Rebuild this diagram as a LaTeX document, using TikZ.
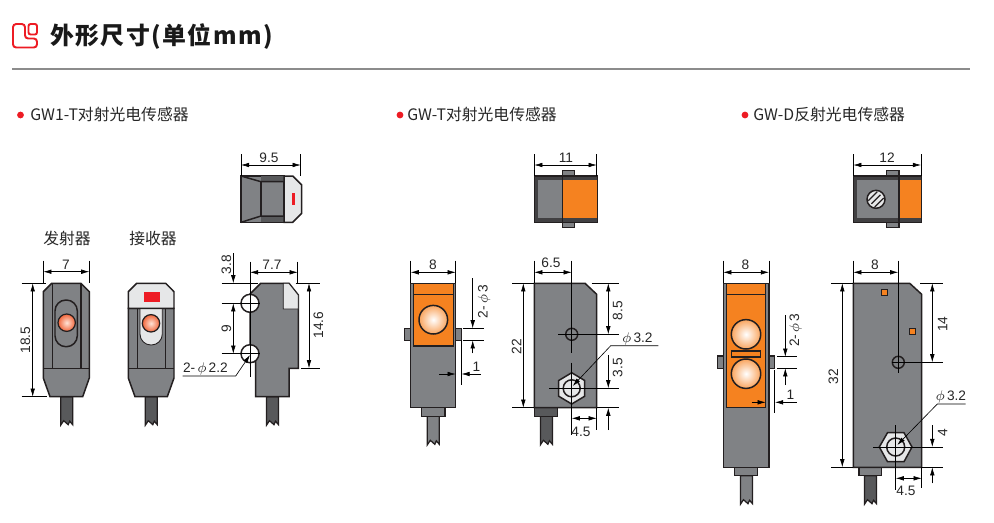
\documentclass[tikz,border=0pt]{standalone}
\usepackage{fontspec}
\usepackage{xcolor}
\usepackage{tikz}
\usetikzlibrary{arrows.meta}
\setmainfont{Liberation Sans}
\newfontfamily\cjk{Noto Sans CJK SC}
\newfontfamily\cjktitle[LetterSpace=6]{Noto Sans CJK SC}
\definecolor{bodygrey}{HTML}{808285}
\definecolor{capgrey}{HTML}{E6E7E8}
\definecolor{lineblack}{HTML}{231F20}
\definecolor{darkgrey}{HTML}{58595B}
\definecolor{bandgrey}{HTML}{414042}
\definecolor{lensorange}{HTML}{F58220}
\definecolor{lensedge}{HTML}{F9A55F}
\definecolor{ledcentre}{HTML}{FFE3D6}
\definecolor{ledgedge}{HTML}{F0653A}
\definecolor{markred}{HTML}{ED1C24}
\tikzset{
    part/.style={draw=lineblack,line width=0.85pt,fill=bodygrey},
    inner/.style={draw=lineblack,line width=0.85pt},
    led/.style={draw=lineblack,line width=0.7pt,inner color=ledcentre,outer color=ledgedge},
    lens/.style={draw=lineblack,line width=0.85pt,inner color=white,outer color=lensedge},
    dimline/.style={draw=black,line width=0.35pt},
    dimarrow/.style={draw=black,line width=0.35pt,-{Latex[length=4.6pt,width=2.6pt]}},
    dimboth/.style={draw=black,line width=0.35pt,{Latex[length=4.6pt,width=2.6pt]}-{Latex[length=4.6pt,width=2.6pt]}},
    dimtext/.style={font=\fontsize{7.8}{9}\selectfont,inner sep=0pt,text=black!85},
    sectiontext/.style={font=\cjk\fontsize{9}{10}\selectfont,inner sep=0pt,anchor=west,text=black!85},
    pics/cable/.style={code={
        \draw[part,line width=0.7pt,fill=#1] (-6,0) -- (-6,28.5) -- (-3,24) -- (1.5,28) -- (3,24.5) -- (6,28) -- (6,0) -- cycle;
    }},
}
\begin{document}
\begin{tikzpicture}[x=0.02cm,y=-0.02cm]
    \useasboundingbox (0,0) rectangle (994,522);

    % draw header
    \draw[markred,line width=1.1pt,rounded corners=1.8pt] (13,24) -- (25,24) -- (25,38.5) -- (37,38.5) -- (37,47.5) -- (13,47.5) -- cycle;
    \draw[markred,line width=1.1pt,rounded corners=1.2pt] (28.5,24) rectangle (37,34.5);
    \node[inner sep=0pt,anchor=west,font=\cjktitle\bfseries\fontsize{13.6}{15}\selectfont,text=black!90] (title) at (50,36) {外形尺寸(单位mm)};
    \draw[black!45,line width=0.6pt] (12,69) -- (970,69);

    % draw section labels
    \foreach \x in {20.5,400,745}
        \fill[markred] (\x,115) circle [radius=3.4];
    \node[sectiontext] (gwonelabel) at (30,114) {GW1-T对射光电传感器};
    \node[sectiontext] (gwtlabel) at (407,114) {GW-T对射光电传感器};
    \node[sectiontext] (gwdlabel) at (753,114) {GW-D反射光电传感器};

    % GW1-T emitter
    \pic at (66.7,396.7) {cable=darkgrey};
    \draw[part] (51.7,283.3) -- (81,283.3) -- (89.3,291.7) -- (89.3,378) -- (82.7,396.7) -- (50,396.7) -- (43.3,378) -- (43.3,291.7) -- cycle;
    \draw[inner] (43.3,368.3) -- (89.3,368.3);
    \draw[inner] (52.3,283.3) -- (52.3,368.3);
    \draw[inner] (81,283.3) -- (81,368.3);
    \draw[inner,rounded corners=6.2pt] (55,300) rectangle (77.3,346.7);
    \draw[led] (66.7,322.7) circle [radius=8.7];
    \node[inner sep=0pt,font=\cjk\fontsize{9}{10}\selectfont,text=black!85] (emitterlabel) at (67,238) {发射器};

    % GW1-T receiver
    \pic at (151.3,396.7) {cable=darkgrey};
    \draw[part] (128.3,308.3) -- (174,308.3) -- (174,378) -- (167.3,396.7) -- (135,396.7) -- (128.3,378) -- cycle;
    \draw[inner] (128.3,368.3) -- (174,368.3);
    \draw[inner] (137.3,308.3) -- (137.3,368.3);
    \draw[inner] (165.7,308.3) -- (165.7,368.3);
    \draw[lineblack,line width=0.5pt,fill=capgrey,rounded corners=6.2pt] (140,308.3) -- (140,345) -- (162.3,345) -- (162.3,308.3);
    \draw[part,fill=capgrey] (136.7,283.3) -- (165.7,283.3) -- (174,291.7) -- (174,308.3) -- (128.3,308.3) -- (128.3,291.7) -- cycle;
    \fill[markred] (144,291.7) rectangle (160,301.7);
    \draw[led] (151,323.3) circle [radius=8.7];
    \node[inner sep=0pt,font=\cjk\fontsize{9}{10}\selectfont,text=black!85] (receiverlabel) at (153,238) {接收器};

    % GW1-T top view
    \draw[part] (241,176) -- (284,176) -- (284,222.3) -- (241,222.3) -- cycle;
    \fill[darkgrey] (261,176) rectangle (284,181.7);
    \fill[darkgrey] (261,216) rectangle (284,222.3);
    \draw[inner] (241,176) -- (261,181.7) -- (284,181.7);
    \draw[inner] (241,222.3) -- (261,216) -- (284,216);
    \draw[inner] (261,181.7) -- (261,216);
    \draw[part,fill=capgrey] (284,176) -- (292.7,176) -- (301.7,185) -- (301.7,213.3) -- (292.7,222.3) -- (284,222.3) -- cycle;
    \fill[markred] (292,192.7) rectangle (295,205);

    % GW1-T side view
    \pic at (272.5,396.7) {cable=darkgrey};
    \draw[part] (260.7,283.3) -- (289,283.3) -- (298.3,295) -- (298.3,368.3) -- (289,368.3) -- (289,396.7) -- (255.7,396.7) -- (255.7,361.7) -- (250,361.7) -- (250,294) -- cycle;
    \draw[part,fill=capgrey,line width=0.5pt] (283.3,283.3) -- (289,283.3) -- (298.3,295) -- (298.3,309) -- (283.3,309) -- cycle;
    \draw[inner,fill=white] (250,303.3) circle [radius=9];
    \draw[inner,fill=white] (250,353.7) circle [radius=9];

    % GW1-T dimensions
    \draw[dimline] (43.3,260.7) -- (43.3,283);
    \draw[dimline] (89.3,260.7) -- (89.3,283);
    \draw[dimboth] (43.3,271.7) -- (89.3,271.7);
    \node[dimtext] (dimseven) at (66,265) {7};
    \draw[dimline] (21.7,283.3) -- (46,283.3);
    \draw[dimline] (21.7,396.7) -- (47,396.7);
    \draw[dimboth] (32.7,283.3) -- (32.7,396.7);
    \node[dimtext,rotate=90] (dimeighteen) at (25.5,340) {18.5};
    \draw[dimline] (241,154) -- (241,176);
    \draw[dimline] (300.7,154) -- (300.7,176);
    \draw[dimboth] (241,165) -- (300.7,165);
    \node[dimtext] (dimninefive) at (269,158) {9.5};
    \draw[dimline] (250,261.7) -- (250,376.7);
    \draw[dimline] (297.7,261.7) -- (297.7,283);
    \draw[dimboth] (250,272.3) -- (297.7,272.3);
    \node[dimtext] (dimsevenseven) at (272,265) {7.7};
    \draw[dimline] (221.7,283.3) -- (258,283.3);
    \draw[dimline] (221.7,303.3) -- (260,303.3);
    \draw[dimline] (221.7,353.7) -- (260,353.7);
    \draw[dimarrow] (233.3,253) -- (233.3,283.3);
    \draw[dimboth] (233.3,303.3) -- (233.3,353.7);
    \node[dimtext,rotate=90] (dimthreeeight) at (226.5,264.5) {3.8};
    \node[dimtext,rotate=90] (dimnine) at (226.5,329) {9};
    \draw[dimline] (295.7,283.3) -- (320,283.3);
    \draw[dimline] (301,368.3) -- (320,368.3);
    \draw[dimboth] (309,283.3) -- (309,368.3);
    \node[dimtext,rotate=90] (dimfourteensix) at (318.5,325) {14.6};
    \draw[dimarrow] (182.7,376) -- (235.7,376) -- (250,355);
    \node[dimtext,anchor=west] (holeleft) at (182.7,369) {2-\,$\phi$\,2.2};

    % GW-T top view
    \draw[part,fill=bandgrey] (534.3,176) rectangle (597.3,222.3);
    \fill[bodygrey] (537.7,180) rectangle (562.7,218.3);
    \fill[lensorange] (562.7,180) rectangle (596.7,218.3);
    \draw[inner] (562.7,176) -- (562.7,222.3);
    \draw[part] (562.7,170.7) rectangle (574.3,176);
    \draw[part] (562.7,222.3) rectangle (574.3,227.7);

    % GW-T front view
    \pic at (433.3,416.3) {cable=bodygrey};
    \draw[part] (421.7,407.7) rectangle (445,416.3);
    \draw[part] (404.3,328.3) rectangle (410.7,340.3);
    \draw[part] (455.7,328.3) rectangle (461.7,340.3);
    \draw[part] (410.7,283.3) rectangle (455.7,407.7);
    \draw[inner,fill=lensorange] (413.3,283.6) rectangle (453.3,346);
    \draw[inner] (413.3,294.3) -- (453.3,294.3);
    \draw[lens] (433.3,319.7) circle [radius=14.3];

    % GW-T side view
    \pic at (546.4,416.3) {cable=darkgrey};
    \draw[part,fill=darkgrey] (534.3,407.7) rectangle (557.7,416.3);
    \draw[part] (534.3,283.3) -- (585,283.3) -- (596.7,294.3) -- (596.7,407.7) -- (534.3,407.7) -- cycle;
    \draw[inner] (571.7,334.3) circle [radius=6];
    \draw[part,fill=capgrey] (571.7,372.7) -- (584.7,380.5) -- (584.7,396.2) -- (571.7,404) -- (558.7,396.2) -- (558.7,380.5) -- cycle;
    \draw[inner] (571.7,388.3) circle [radius=8.5];

    % GW-T dimensions
    \draw[dimline] (534.3,154) -- (534.3,176);
    \draw[dimline] (596.7,154) -- (596.7,176);
    \draw[dimboth] (534.3,165) -- (596.7,165);
    \node[dimtext] (dimeleven) at (566,158) {11};
    \draw[dimline] (410.7,260.7) -- (410.7,283);
    \draw[dimline] (455.7,260.7) -- (455.7,283);
    \draw[dimboth] (410.7,272.3) -- (455.7,272.3);
    \node[dimtext] (dimeightt) at (433,265) {8};
    \draw[dimline] (463.3,328.3) -- (484,328.3);
    \draw[dimline] (463.3,340.3) -- (484,340.3);
    \draw[dimarrow] (472.7,278.3) -- (472.7,328.3);
    \draw[dimarrow] (472.7,353.3) -- (472.7,340.3);
    \node[dimtext,rotate=90] (lenst) at (484,301.7) {2-\,$\phi$\,3};
    \draw[dimline] (461.3,340) -- (461.3,385);
    \draw[dimarrow] (439,374) -- (455.7,374);
    \draw[dimarrow] (480.7,374) -- (461.5,374);
    \node[dimtext] (dimonet) at (476.5,366.5) {1};
    \draw[dimline] (534.3,260.7) -- (534.3,283);
    \draw[dimline] (571.7,260.7) -- (571.7,353.3);
    \draw[dimboth] (534.3,272.3) -- (571.7,272.3);
    \node[dimtext] (dimsixfive) at (551,262.7) {6.5};
    \draw[dimline] (558.3,334.3) -- (619.3,334.3);
    \draw[dimline] (571.7,362.7) -- (571.7,435);
    \draw[dimline] (549.3,388.3) -- (619.3,388.3);
    \draw[dimline] (512.3,283.3) -- (534,283.3);
    \draw[dimline] (512.3,407.7) -- (534,407.7);
    \draw[dimboth] (523.3,283.3) -- (523.3,407.7);
    \node[dimtext,rotate=90] (dimtwentytwo) at (516.7,346.7) {22};
    \draw[dimline] (591.7,283.3) -- (619.3,283.3);
    \draw[dimboth] (608.3,283.3) -- (608.3,334.3);
    \node[dimtext,rotate=90] (dimeightfive) at (617.7,310.7) {8.5};
    \draw[dimarrow] (608.3,355) -- (608.3,388.3);
    \draw[dimarrow] (608.3,430) -- (608.3,407.7);
    \draw[dimline] (596.7,407.7) -- (619.3,407.7);
    \node[dimtext,rotate=90] (dimthreefive) at (617.7,367.7) {3.5};
    \draw[dimline] (596.7,407.7) -- (596.7,430);
    \draw[dimboth] (571.7,418.3) -- (596.7,418.3);
    \node[dimtext] (dimfourfivet) at (581,431.7) {4.5};
    \draw[dimarrow] (658.3,345.7) -- (610.7,345.7) -- (572.7,386);
    \node[dimtext,anchor=west] (holet) at (622,339) {$\phi$\,3.2};

    % GW-D top view
    \draw[part,fill=bandgrey] (853.3,176) rectangle (921.7,222.3);
    \fill[bodygrey] (856.7,180) rectangle (899,218.3);
    \fill[lensorange] (899,180) rectangle (921,218.3);
    \draw[inner] (899,176) -- (899,222.3);
    \draw[part] (886.7,170.7) rectangle (899,176);
    \draw[part] (886.7,222.3) rectangle (899,227.7);
    \draw[inner,fill=capgrey] (876,199.3) circle [radius=9];
    \foreach \d in {-3.2,0,3.2}
        \draw[lineblack,line width=0.7pt] (876+\d-4.5,199.3+\d+4.5) -- (876+\d+4.5,199.3+\d-4.5);

    % GW-D front view
    \pic at (746.5,475.7) {cable=bodygrey};
    \draw[part] (734.7,467.3) rectangle (757.3,475.7);
    \draw[part] (717.3,356) rectangle (723.3,368.7);
    \draw[part] (769,356) rectangle (774.7,368.7);
    \draw[part] (723.3,283.3) rectangle (769,467.3);
    \draw[inner,fill=lensorange] (726.7,283.6) rectangle (765.7,407.7);
    \draw[inner] (726.7,294.3) -- (765.7,294.3);
    \foreach \y in {334.3,373.7}
        \draw[lens] (746,\y) circle [radius=14.7];
    \draw[inner] (731.7,351) rectangle (760.7,357);

    % GW-D side view
    \pic at (870.5,475.7) {cable=darkgrey};
    \draw[part] (859,467.3) rectangle (881.7,475.7);
    \draw[part] (853.3,283.3) -- (909.7,283.3) -- (921.7,294.3) -- (921.7,467.3) -- (853.3,467.3) -- cycle;
    \draw[lineblack,line width=0.4pt,fill=lensorange] (881.3,289) rectangle (887.3,295);
    \draw[lineblack,line width=0.4pt,fill=lensorange] (909.3,328.3) rectangle (915.3,334.3);
    \draw[inner] (898.3,362.3) circle [radius=6];
    \draw[part,fill=capgrey] (879.3,447) -- (887.5,432.7) -- (904,432.7) -- (912,447) -- (904,461.7) -- (887.5,461.7) -- cycle;
    \draw[inner] (895.7,447) circle [radius=9];

    % GW-D dimensions
    \draw[dimline] (853.3,154) -- (853.3,176);
    \draw[dimline] (921,154) -- (921,176);
    \draw[dimboth] (853.3,165) -- (921,165);
    \node[dimtext] (dimtwelve) at (887,158) {12};
    \draw[dimline] (723.3,260.7) -- (723.3,283);
    \draw[dimline] (769,260.7) -- (769,283);
    \draw[dimboth] (723.3,272.3) -- (769,272.3);
    \node[dimtext] (dimeightd) at (745.5,265) {8};
    \draw[dimline] (777.3,356.7) -- (796.7,356.7);
    \draw[dimline] (777.3,368.3) -- (796.7,368.3);
    \draw[dimarrow] (785.3,315) -- (785.3,356.7);
    \draw[dimarrow] (785.3,385) -- (785.3,368.3);
    \node[dimtext,rotate=90] (lensd) at (795.7,330) {2-\,$\phi$\,3};
    \draw[dimline] (774.3,370) -- (774.3,413.3);
    \draw[dimarrow] (751.7,402.3) -- (765.7,402.3);
    \draw[dimarrow] (796.7,402.3) -- (775,402.3);
    \node[dimtext] (dimoned) at (790.5,395) {1};
    \draw[dimline] (853.3,260.7) -- (853.3,283);
    \draw[dimline] (898.3,260.7) -- (898.3,373);
    \draw[dimboth] (853.3,272.3) -- (898.3,272.3);
    \node[dimtext] (dimeightside) at (875,265) {8};
    \draw[dimline] (892,362.3) -- (943.3,362.3);
    \draw[dimline] (895.7,425) -- (895.7,490);
    \draw[dimline] (873.3,447) -- (943.3,447);
    \draw[dimline] (831,283.3) -- (853,283.3);
    \draw[dimline] (831,467.3) -- (853,467.3);
    \draw[dimboth] (842.3,283.3) -- (842.3,467.3);
    \node[dimtext,rotate=90] (dimthirtytwo) at (833.3,376.7) {32};
    \draw[dimline] (920,283.3) -- (943.3,283.3);
    \draw[dimboth] (932.3,283.3) -- (932.3,362.3);
    \node[dimtext,rotate=90] (dimfourteen) at (942.7,324) {14};
    \draw[dimarrow] (932.3,425) -- (932.3,447);
    \draw[dimarrow] (932.3,483.3) -- (932.3,467.3);
    \draw[dimline] (921.7,467.3) -- (943.3,467.3);
    \node[dimtext,rotate=90] (dimfour) at (942.7,432.3) {4};
    \draw[dimline] (921.7,467.3) -- (921.7,488.3);
    \draw[dimboth] (895.7,478.3) -- (921.7,478.3);
    \node[dimtext] (dimfourfived) at (906,490.7) {4.5};
    \draw[dimarrow] (965.7,404) -- (937.3,404) -- (897.3,445);
    \node[dimtext,anchor=west] (holed) at (935.5,397) {$\phi$\,3.2};
\end{tikzpicture}
\end{document}
